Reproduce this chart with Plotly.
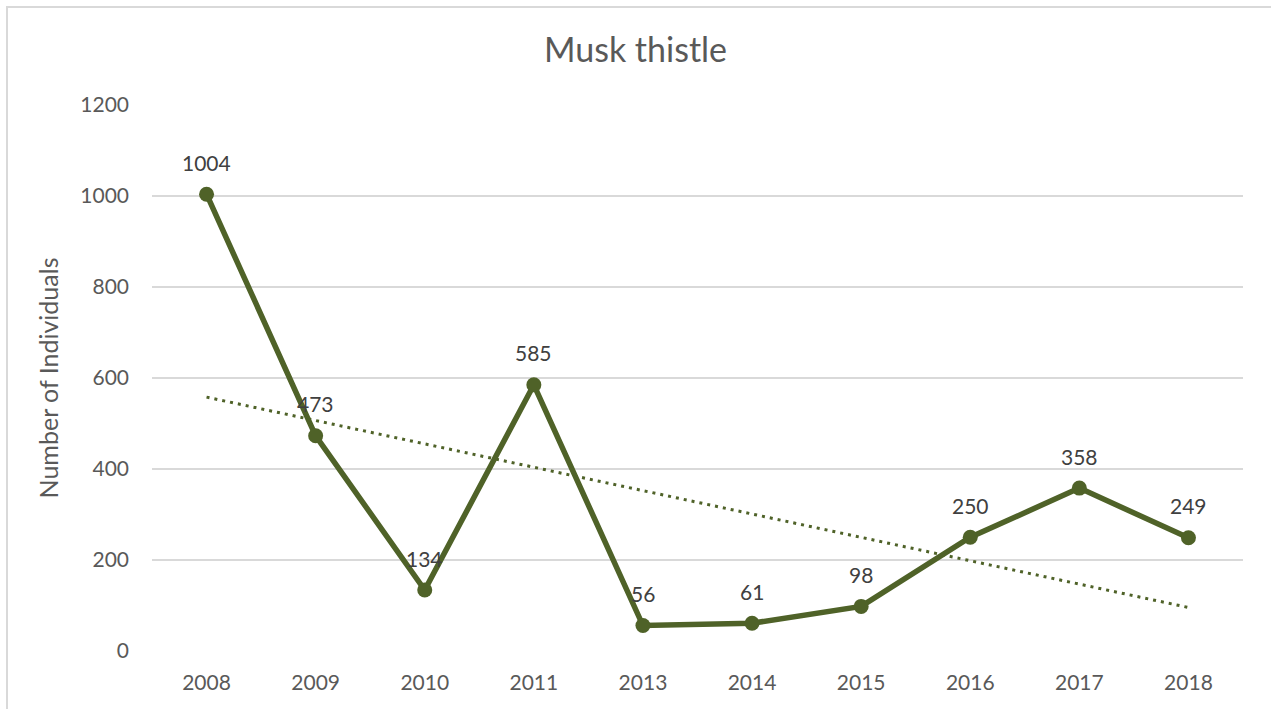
import numpy as np
import plotly.graph_objects as go

years = ["2008", "2009", "2010", "2011", "2013", "2014", "2015", "2016", "2017", "2018"]
counts = [1004, 473, 134, 585, 56, 61, 98, 250, 358, 249]
y_ticks = [0, 200, 400, 600, 800, 1000, 1200]

line_color = "#4F6228"
font_family = "Lato, 'Open Sans', sans-serif"

# Linear trendline (least squares on category index), as in the spreadsheet chart
idx = np.arange(1, len(counts) + 1)
slope, intercept = np.polyfit(idx, counts, 1)
trend = slope * idx + intercept

fig = go.Figure()
fig.add_trace(go.Scatter(
    x=years, y=trend, mode="lines",
    line=dict(color=line_color, width=3, dash="3px,5px"),
    hoverinfo="skip", showlegend=False,
))
fig.add_trace(go.Scatter(
    x=years, y=counts, mode="lines+markers",
    line=dict(color=line_color, width=5.5),
    marker=dict(color=line_color, size=15),
    showlegend=False,
))

# data labels (category axis: position annotations by category serial number)
annotations = [
    dict(x=i, y=v, xref="x", yref="y", text=str(v), showarrow=False,
         yshift=32, font=dict(family=font_family, size=21, color="#404040"))
    for i, v in enumerate(counts)
]

fig.update_layout(
    width=1271, height=709,
    margin=dict(l=152, r=28, t=105, b=58),
    paper_bgcolor="white", plot_bgcolor="white",
    title=dict(text="Musk thistle", x=0.5, xanchor="center", y=0.929, yanchor="middle",
               font=dict(family=font_family, size=34, color="#595959")),
    font=dict(family=font_family, color="#595959"),
    xaxis=dict(type="category", range=[-0.5, len(years) - 0.5], showgrid=False,
               showline=False, zeroline=False, ticks="",
               tickfont=dict(size=21, color="#595959"), ticklabelstandoff=17),
    yaxis=dict(range=[0, 1200], tickvals=y_ticks, showgrid=True, gridcolor="#D9D9D9",
               gridwidth=1.5, zeroline=False, showline=False, ticks="",
               tickfont=dict(size=21, color="#595959"), ticklabelstandoff=22,
               title=dict(text="Number of Individuals", font=dict(size=25, color="#595959"),
                          standoff=14)),
    annotations=annotations,
    shapes=[dict(type="rect", xref="paper", yref="paper",
                 x0=-0.1329, x1=1.2, y0=-0.3, y1=1.1795,
                 line=dict(color="#D9D9D9", width=2), fillcolor="rgba(0,0,0,0)", layer="below")],
)

fig.write_html("out.html", config={"displayModeBar": False},
               post_script="document.body.style.margin='0';document.body.style.overflow='hidden';")
